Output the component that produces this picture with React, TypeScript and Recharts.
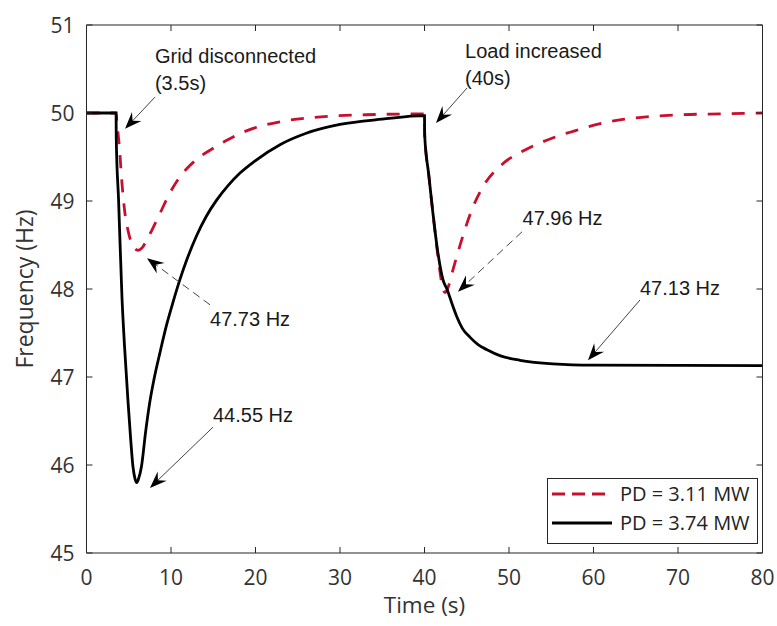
import { LineChart, Line, XAxis, YAxis, ReferenceLine, ReferenceDot, Legend } from 'recharts';

// PD = 3.11 MW (red dashed)
const redTime = [0, 3.5, 3.6, 3.9, 4.2, 4.5, 4.9, 5.3, 5.7, 6.1, 6.6, 7.1, 7.9, 8.7, 9.8, 11.1, 12.2, 13.4, 15, 16.6, 19, 22.9, 27, 33, 40, 40.02, 40.5, 41, 41.5, 41.9, 42.2, 42.45, 42.8, 43.2, 43.7, 44.5, 45.6, 46.9, 49.1, 51.9, 55, 58.2, 60.8, 63.7, 66.7, 70.2, 75, 80];
const redFreq = [50, 50, 49.9, 49.6, 49.2, 48.9, 48.67, 48.53, 48.46, 48.44, 48.47, 48.55, 48.7, 48.86, 49.08, 49.28, 49.4, 49.5, 49.6, 49.69, 49.8, 49.9, 49.95, 49.98, 49.99, 49.76, 49.3, 48.86, 48.44, 48.15, 47.99, 47.96, 48.02, 48.16, 48.33, 48.59, 48.9, 49.16, 49.41, 49.58, 49.71, 49.81, 49.88, 49.93, 49.96, 49.98, 49.99, 50];

// PD = 3.74 MW (black solid)
const blackTime = [0, 3.5, 3.52, 3.8, 4.2, 4.5, 4.9, 5.2, 5.5, 5.75, 5.95, 6.15, 6.5, 7.0, 7.5, 8.0, 8.7, 9.5, 10.3, 11.1, 11.9, 13, 14.2, 15.4, 16.8, 18.2, 20, 22.9, 26, 30, 35, 40, 40.02, 40.5, 41, 41.5, 42.2, 42.7, 43.3, 43.8, 44.5, 45.4, 46.3, 47.4, 49, 51.3, 55.2, 60, 80];
const blackFreq = [50, 50, 49.72, 49.0, 47.9, 47.35, 46.74, 46.33, 45.98, 45.84, 45.8, 45.84, 45.98, 46.38, 46.72, 46.98, 47.28, 47.6, 47.87, 48.12, 48.34, 48.6, 48.83, 49.01, 49.18, 49.32, 49.46, 49.64, 49.77, 49.87, 49.93, 49.97, 49.75, 49.3, 48.86, 48.47, 48.1, 47.99, 47.82, 47.69, 47.55, 47.45, 47.37, 47.31, 47.24, 47.19, 47.15, 47.135, 47.13];

const xTicks = [0, 10, 20, 30, 40, 50, 60, 70, 80];
const yTicks = [45, 46, 47, 48, 49, 50, 51];

const seriesNames = ['PD = 3.11 MW', 'PD = 3.74 MW'];
const RED = '#c8102e';

// annotation texts, in data units (t, Hz)
const notes = [
  { t: 8.1, f: 50.565, lines: ['Grid disconnected', '(3.5s)'] },
  { t: 44.8, f: 50.625, lines: ['Load increased', '(40s)'] },
  { t: 14.62, f: 47.58, lines: ['47.73 Hz'] },
  { t: 14.97, f: 46.49, lines: ['44.55 Hz'] },
  { t: 51.6, f: 48.73, lines: ['47.96 Hz'] },
  { t: 65.5, f: 47.93, lines: ['47.13 Hz'] },
];

// arrows: tail -> tip
const arrows = [
  { from: [8.1, 50.18], to: [4.56, 49.82], dashed: false },
  { from: [45.03, 50.284], to: [41.36, 49.886], dashed: false },
  { from: [14.62, 47.82], to: [7.16, 48.35], dashed: true },
  { from: [14.97, 46.43], to: [7.51, 45.74], dashed: false },
  { from: [51.54, 48.65], to: [43.96, 47.97], dashed: true },
  { from: [65.5, 47.875], to: [59.35, 47.19], dashed: false },
];

const redData = redTime.map((t, i) => ({ t, f: redFreq[i] }));
const blackData = blackTime.map((t, i) => ({ t, f: blackFreq[i] }));

const AXIS = '#262626';
const TICK_FONT = { fontFamily: '"Open Sans", sans-serif', fontSize: 21, fill: '#333' };
const NOTE_FONT = { fontFamily: '"Liberation Sans", Arial, sans-serif', fontSize: 20, fill: '#1a1a1a' };

const BottomTick = (p: any) => (
  <g>
    <line x1={p.x} x2={p.x} y1={p.y} y2={p.y - 6} stroke={AXIS} />
    <text x={p.x} y={p.y + 32} textAnchor="middle" {...TICK_FONT}>
      {p.payload.value}
    </text>
  </g>
);
const TopTick = (p: any) => <line x1={p.x} x2={p.x} y1={p.y} y2={p.y + 6} stroke={AXIS} />;
const LeftTick = (p: any) => (
  <g>
    <line x1={p.x} x2={p.x + 6} y1={p.y} y2={p.y} stroke={AXIS} />
    <text x={p.x - 12} y={p.y + 7.5} textAnchor="end" {...TICK_FONT}>
      {p.payload.value}
    </text>
  </g>
);
const RightTick = (p: any) => <line x1={p.x} x2={p.x - 6} y1={p.y} y2={p.y} stroke={AXIS} />;

const arrowShape = (dashed: boolean) => (p: any) => {
  const { x1, y1, x2, y2 } = p;
  const dx = x2 - x1;
  const dy = y2 - y1;
  const len = Math.hypot(dx, dy) || 1;
  const ux = dx / len;
  const uy = dy / len;
  const nx = -uy;
  const ny = ux;
  const L = 17;
  const W = 6.5;
  const N = 11;
  const bx = x2 - ux * L;
  const by = y2 - uy * L;
  const pts = [
    [x2, y2],
    [bx + nx * W, by + ny * W],
    [x2 - ux * N, y2 - uy * N],
    [bx - nx * W, by - ny * W],
  ]
    .map((q) => q.join(','))
    .join(' ');
  return (
    <g>
      <line
        x1={x1}
        y1={y1}
        x2={x2 - ux * N}
        y2={y2 - uy * N}
        stroke="#444"
        strokeWidth={1}
        strokeDasharray={dashed ? '8 5' : undefined}
      />
      <polygon points={pts} fill="#000" />
    </g>
  );
};

const noteShape = (lines: string[]) => (p: any) => (
  <text x={p.cx} y={p.cy} {...NOTE_FONT}>
    {lines.map((l, i) => (
      <tspan key={i} x={p.cx} dy={i === 0 ? 0 : 27}>
        {l}
      </tspan>
    ))}
  </text>
);

const LegendBox = () => (
  <svg width={211} height={66}>
    <rect x={0.5} y={0.5} width={210} height={65} fill="#fff" stroke={AXIS} />
    <line x1={5} x2={65} y1={16} y2={16} stroke={RED} strokeWidth={2.8} strokeDasharray="13 7" />
    <text x={73} y={23} fontFamily='"Open Sans", sans-serif' fontSize={20} fill="#222">
      {seriesNames[0]}
    </text>
    <line x1={5} x2={65} y1={45} y2={45} stroke="#000" strokeWidth={2.8} />
    <text x={73} y={52} fontFamily='"Open Sans", sans-serif' fontSize={20} fill="#222">
      {seriesNames[1]}
    </text>
  </svg>
);

export default function App() {
  return (
    <div style={{ position: 'absolute', left: 0, top: 0, width: 777, height: 626, background: '#fff' }}>
      <LineChart width={777} height={626} margin={{ top: 0, right: 0, bottom: 0, left: 0 }}>
        <XAxis
          xAxisId="b"
          type="number"
          dataKey="t"
          domain={[0, 80]}
          ticks={xTicks}
          interval={0}
          height={73}
          tickSize={0}
          tickMargin={0}
          tickLine={false}
          axisLine={{ stroke: AXIS }}
          tick={BottomTick}
          allowDataOverflow
          label={{
            value: 'Time (s)',
            position: 'insideBottom',
            offset: 13,
            style: { fontFamily: '"Open Sans", sans-serif', fontSize: 22.5, fill: '#333' },
          }}
        />
        <XAxis
          xAxisId="top"
          orientation="top"
          type="number"
          dataKey="t"
          domain={[0, 80]}
          ticks={xTicks}
          interval={0}
          height={25}
          tickSize={0}
          tickMargin={0}
          tickLine={false}
          axisLine={{ stroke: AXIS }}
          tick={TopTick}
          allowDataOverflow
        />
        <YAxis
          yAxisId="l"
          type="number"
          domain={[45, 51]}
          ticks={yTicks}
          interval={0}
          width={86.5}
          tickSize={0}
          tickMargin={0}
          tickLine={false}
          axisLine={{ stroke: AXIS }}
          tick={LeftTick}
          allowDataOverflow
          label={{
            content: (props: any) => {
              const vb = props.viewBox || { x: 0, y: 25, width: 86.5, height: 527.5 };
              const cy = vb.y + vb.height / 2;
              const cx = 33;
              return (
                <text
                  x={cx}
                  y={cy}
                  transform={`rotate(-90, ${cx}, ${cy})`}
                  textAnchor="middle"
                  fontFamily='"Open Sans", sans-serif'
                  fontSize={23}
                  fill="#333"
                >
                  Frequency (Hz)
                </text>
              );
            },
          }}
        />
        <YAxis
          yAxisId="r"
          orientation="right"
          type="number"
          domain={[45, 51]}
          ticks={yTicks}
          interval={0}
          width={14.5}
          tickSize={0}
          tickMargin={0}
          tickLine={false}
          axisLine={{ stroke: AXIS }}
          tick={RightTick}
          allowDataOverflow
        />
        <Line
          xAxisId="b"
          yAxisId="l"
          data={redData}
          dataKey="f"
          name={seriesNames[0]}
          type="monotone"
          stroke={RED}
          strokeWidth={2.8}
          strokeDasharray="13 11"
          dot={false}
          activeDot={false}
          isAnimationActive={false}
        />
        <Line
          xAxisId="b"
          yAxisId="l"
          data={blackData}
          dataKey="f"
          name={seriesNames[1]}
          type="monotone"
          stroke="#000"
          strokeWidth={2.8}
          dot={false}
          activeDot={false}
          isAnimationActive={false}
        />
        {arrows.map((a, i) => (
          <ReferenceLine
            key={`a${i}`}
            xAxisId="b"
            yAxisId="l"
            segment={[
              { x: a.from[0], y: a.from[1] },
              { x: a.to[0], y: a.to[1] },
            ]}
            ifOverflow="visible"
            shape={arrowShape(a.dashed)}
          />
        ))}
        {notes.map((n, i) => (
          <ReferenceDot
            key={`n${i}`}
            xAxisId="b"
            yAxisId="l"
            x={n.t}
            y={n.f}
            r={0}
            ifOverflow="visible"
            shape={noteShape(n.lines)}
          />
        ))}
        <Legend
          layout="horizontal"
          align="center"
          verticalAlign="middle"
          wrapperStyle={{ position: 'absolute', left: 547, top: 478, width: 211, height: 66 }}
          content={() => <LegendBox />}
        />
      </LineChart>
    </div>
  );
}
